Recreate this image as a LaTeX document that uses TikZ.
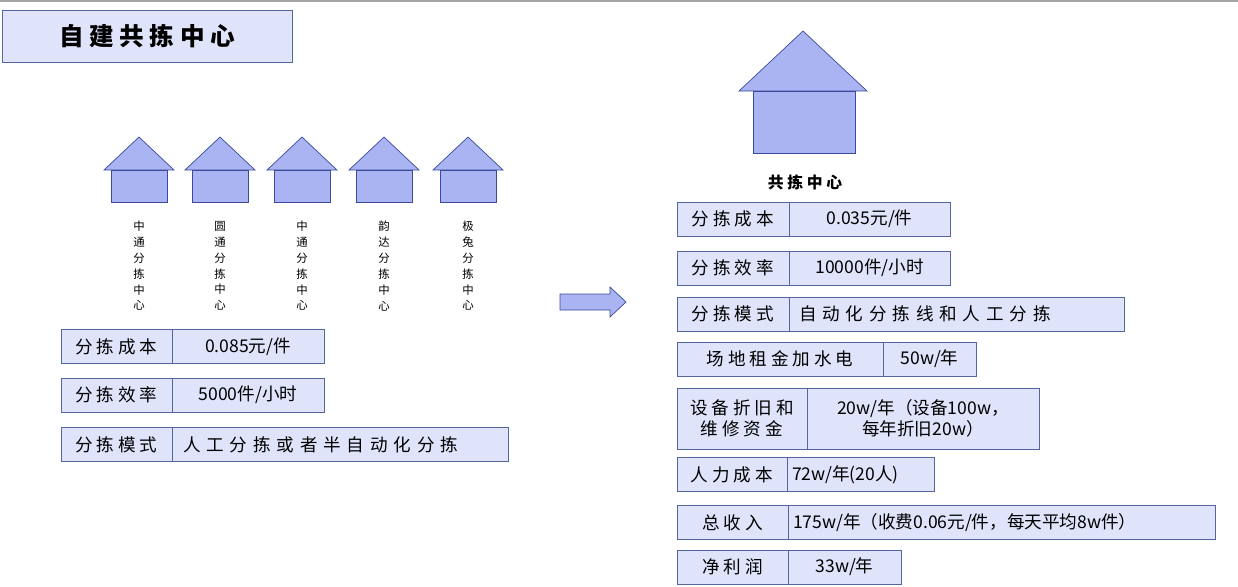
\documentclass[tikz,border=0pt]{standalone}
\usepackage{fontspec}
\setmainfont{Noto Sans CJK SC}
\usepackage{tikz}
\definecolor{cellbg}{HTML}{DFE4FA}
\definecolor{edge}{HTML}{55659E}
\definecolor{housefill}{HTML}{AAB4F2}
\definecolor{housedraw}{HTML}{3B4A9A}
\newcommand{\px}{0.02cm}

\begin{document}
\begin{tikzpicture}[x=0.02cm, y=-0.02cm]
    \tikzstyle{cell} = [rectangle, draw=edge, fill=cellbg, inner sep=0pt, minimum height=34*\px, font=\fontsize{10}{12}\selectfont]
    \tikzstyle{house} = [draw=housedraw, fill=housefill]
    \tikzstyle{vlabel} = [align=center, font=\fontsize{6.5}{9}\selectfont]

    \useasboundingbox (0,0) rectangle (1238,586);
    \draw[gray!70, thick] (0,1) -- (1238,1);

    % Title
    \node[cell, minimum width=290*\px, minimum height=52*\px, font=\fontsize{14}{16}\selectfont\bfseries] (title) at (147,36) {自 建 共 拣 中 心};

    % Small houses
    \foreach \n/\x/\a/\b in {1/139/中/通, 2/220/圆/通, 3/302/中/通, 4/384/韵/达, 5/468/极/兔} {
        \draw[house] (\x-35,170) -- (\x,137) -- (\x+35,170) -- cycle;
        \draw[house] (\x-28,170) rectangle (\x+28,202);
        \node[vlabel] (s\n) at (\x,266) {\a\\\b\\分\\拣\\中\\心};
    }

    % Left table
    \node[cell, minimum width=111*\px] (lcost) at (116.5,346.5) {分 拣 成 本};
    \node[cell, minimum width=152*\px] (lcostv) at (248,346.5) {0.085元/件};
    \node[cell, minimum width=111*\px] (leff) at (116.5,395) {分 拣 效 率};
    \node[cell, minimum width=152*\px] (leffv) at (248,395) {5000件/小时};
    \node[cell, minimum width=111*\px] (lmode) at (116.5,444.5) {分 拣 模 式};
    \node[cell, minimum width=336*\px, text width=314*\px, align=left] (lmodev) at (340,444.5) {人 工 分 拣 或 者 半 自 动 化 分 拣};

    % Arrow
    \draw[draw=housedraw, fill=housefill] (560,294) -- (610,294) -- (610,287) -- (626,302) -- (610,317) -- (610,310) -- (560,310) -- cycle;

    % Big house
    \draw[house] (739,91) -- (803,31) -- (867,91) -- cycle;
    \draw[house] (753,91) rectangle (855,153);
    \node[font=\fontsize{9}{11}\selectfont\bfseries] (center) at (805,182) {共 拣 中 心};

    % Right table
    \node[cell, minimum width=112*\px] (rcost) at (733,219) {分 拣 成 本};
    \node[cell, minimum width=161*\px] (rcostv) at (869.5,219) {0.035元/件};
    \node[cell, minimum width=112*\px] (reff) at (733,268) {分 拣 效 率};
    \node[cell, minimum width=161*\px] (reffv) at (869.5,268) {10000件/小时};
    \node[cell, minimum width=112*\px] (rmode) at (733,314) {分 拣 模 式};
    \node[cell, minimum width=335*\px, text width=315*\px, align=left] (rmodev) at (956.5,314) {自 动 化 分 拣 线 和 人 工 分 拣};
    \node[cell, minimum width=206*\px] (rent) at (780,359) {场 地 租 金 加 水 电};
    \node[cell, minimum width=93*\px] (rentv) at (929.5,359) {50w/年};
    \node[cell, minimum width=130*\px, minimum height=61*\px, align=center] (equip) at (742,418.5) {设 备 折 旧 和\\维 修 资 金};
    \node[cell, minimum width=232*\px, minimum height=61*\px, align=center] (equipv) at (923,418.5) {20w/年（设备100w，\\每年折旧20w）};
    \node[cell, minimum width=110*\px] (labor) at (732,474.5) {人 力 成 本};
    \node[cell, minimum width=147*\px, text width=137*\px, align=left] (laborv) at (860.5,474.5) {72w/年(20人)};
    \node[cell, minimum width=111*\px] (income) at (732.5,522.5) {总 收 入};
    \node[cell, minimum width=427*\px, text width=417*\px, align=left] (incomev) at (1001.5,522.5) {175w/年（收费0.06元/件，每天平均8w件）};
    \node[cell, minimum width=111*\px] (profit) at (732.5,567) {净 利 润};
    \node[cell, minimum width=113*\px] (profitv) at (844.5,567) {33w/年};
\end{tikzpicture}
\end{document}
